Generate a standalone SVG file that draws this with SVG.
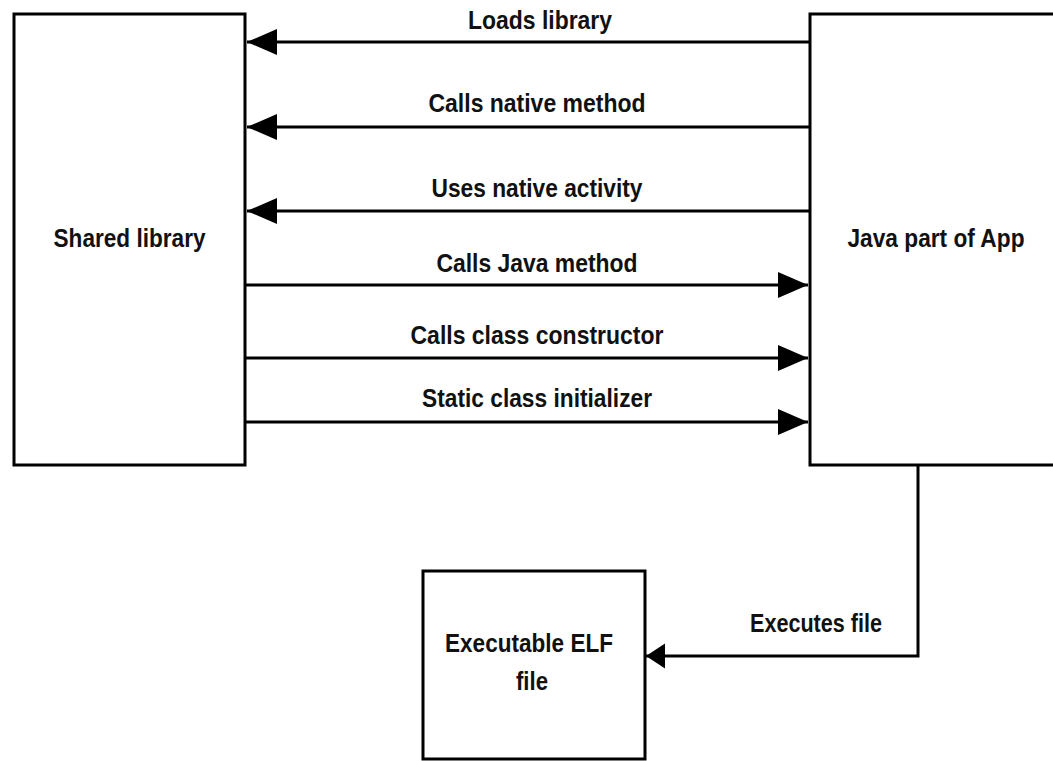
<svg xmlns="http://www.w3.org/2000/svg" width="1053" height="761" viewBox="0 0 1053 761">
  <style>
    .box { fill: #ffffff; stroke: #000000; stroke-width: 3; }
    .conn { fill: none; stroke: #000000; stroke-width: 3; }
    .lbl { font-family: "Liberation Sans", Arial, sans-serif; font-weight: bold; font-size: 26px; fill: #111111; text-anchor: middle; }
  </style>
  <defs>
    <marker id="arr" markerUnits="userSpaceOnUse" markerWidth="32" markerHeight="28" refX="30" refY="14" orient="auto">
      <path d="M0,1 L30,14 L0,27 z" fill="#000000"/>
    </marker>
    <marker id="arrS" markerUnits="userSpaceOnUse" markerWidth="22" markerHeight="28" refX="19" refY="14" orient="auto">
      <path d="M0,1.5 L19,14 L0,26.5 z" fill="#000000"/>
    </marker>
  </defs>
  <rect width="1053" height="761" fill="#ffffff"/>

  <g id="shared-library">
    <rect class="box" x="14" y="14" width="231" height="451"/>
    <text class="lbl" x="129.5" y="247" textLength="152" lengthAdjust="spacingAndGlyphs">Shared library</text>
  </g>

  <g id="java-app">
    <rect class="box" x="810" y="14" width="260" height="451"/>
    <text class="lbl" x="936" y="247" textLength="177" lengthAdjust="spacingAndGlyphs">Java part of App</text>
  </g>

  <g id="elf-file">
    <rect class="box" x="423" y="571" width="222" height="188"/>
    <text class="lbl" x="529" y="652" textLength="168" lengthAdjust="spacingAndGlyphs">Executable ELF</text>
    <text class="lbl" x="532" y="690" textLength="32" lengthAdjust="spacingAndGlyphs">file</text>
  </g>

  <g id="connectors">
    <line class="conn" x1="810" y1="42" x2="247" y2="42" marker-end="url(#arr)"/>
    <line class="conn" x1="810" y1="127" x2="247" y2="127" marker-end="url(#arr)"/>
    <line class="conn" x1="810" y1="211" x2="247" y2="211" marker-end="url(#arr)"/>
    <line class="conn" x1="245" y1="285" x2="808" y2="285" marker-end="url(#arr)"/>
    <line class="conn" x1="245" y1="358" x2="808" y2="358" marker-end="url(#arr)"/>
    <line class="conn" x1="245" y1="422" x2="808" y2="422" marker-end="url(#arr)"/>
    <polyline class="conn" points="918,465 918,656 646,656" marker-end="url(#arrS)"/>

    <text class="lbl" x="540" y="29" textLength="144" lengthAdjust="spacingAndGlyphs">Loads library</text>
    <text class="lbl" x="537" y="112" textLength="217" lengthAdjust="spacingAndGlyphs">Calls native method</text>
    <text class="lbl" x="537" y="197" textLength="211" lengthAdjust="spacingAndGlyphs">Uses native activity</text>
    <text class="lbl" x="537" y="272" textLength="201" lengthAdjust="spacingAndGlyphs">Calls Java method</text>
    <text class="lbl" x="537" y="344" textLength="253" lengthAdjust="spacingAndGlyphs">Calls class constructor</text>
    <text class="lbl" x="537" y="407" textLength="230" lengthAdjust="spacingAndGlyphs">Static class initializer</text>
    <text class="lbl" x="882" y="632" style="text-anchor:end" textLength="132" lengthAdjust="spacingAndGlyphs">Executes file</text>
  </g>
</svg>
